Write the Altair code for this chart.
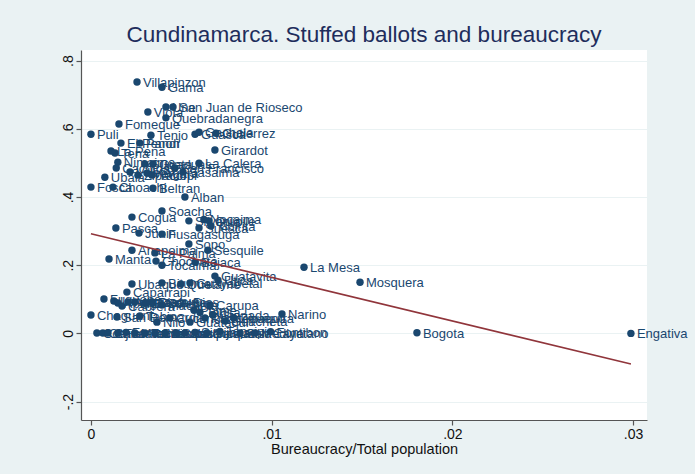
import altair as alt
import pandas as pd

# Municipalities of Cundinamarca: bureaucracy share vs. stuffed-ballot share
names = [
    "Villapinzon", "Gama", "Une", "San Juan de Rioseco", "Viota", "Quebradanegra",
    "Fomeque", "Puli", "Tenjo", "Guasca", "Gachala", "Gutierrez", "Girardot",
    "El Penon", "Pandi", "La Pena", "Tena", "Nimaima", "Cachipay", "Supata",
    "Guaduas", "San Francisco", "La Calera", "Villeta", "Zipacon", "Vergara",
    "Sasaima", "Ubala", "Yacopi", "Fosca", "Choachi", "Beltran", "Alban",
    "Soacha", "Cogua", "Silvania", "Nocaima", "Quipile", "Suesca", "Tibirita",
    "Pasca", "Junin", "Fusagasuga", "Sopo", "Sesquile", "Anapoima", "La Palma",
    "Manta", "Choconta", "Tocaima", "Bojaca", "Guatavita", "Utica", "La Mesa",
    "Mosquera", "Ubaque", "Bituima", "Quetame", "Guayabetal", "Caparrapi",
    "Fuquene", "Lenguazaque", "Apulo", "Cabrera", "Arbelaez", "Agua de Dios",
    "El Colegio", "Ricaurte", "Macheta", "Carupa", "Paime", "Tausa", "Granada",
    "Chaguani", "Narino", "Zipaquira", "Nilo", "Guataqui", "San Bernardo",
    "Tabio", "Cucunuba", "Guacheta", "Paratebueno", "Cota", "Cajica", "Chia",
    "Facatativa", "Funza", "Madrid", "Tocancipa", "Gachancipa", "Sibate",
    "Subachoque", "Susa", "Simijaca", "Sutatausa", "Topaipi", "San Cayetano",
    "Medina", "Fontibon", "Bogota", "Engativa",
]

bureaucracy = [
    0.00255, 0.00393, 0.00415, 0.00454, 0.00315, 0.00415,
    0.00155, 0.00000, 0.00332, 0.00576, 0.00598, 0.00692, 0.00686,
    0.00166, 0.00271, 0.00111, 0.00133, 0.00149, 0.00140, 0.00299,
    0.00343, 0.00465, 0.00598, 0.00216, 0.00260, 0.00310,
    0.00509, 0.00077, 0.00338, 0.00000, 0.00122, 0.00343, 0.00520,
    0.00393, 0.00227, 0.00542, 0.00625, 0.00653, 0.00598, 0.00664,
    0.00138, 0.00266, 0.00393, 0.00542, 0.00647, 0.00227, 0.00354,
    0.00100, 0.00360, 0.00393, 0.00576, 0.00686, 0.00703, 0.01179,
    0.01489, 0.00227, 0.00393, 0.00498, 0.00548, 0.00199,
    0.00072, 0.00127, 0.00149, 0.00172, 0.00205, 0.00243,
    0.00299, 0.00338, 0.00393, 0.00659, 0.00570, 0.00603, 0.00675,
    0.00000, 0.01057, 0.00791, 0.00365, 0.00548, 0.00144,
    0.00271, 0.00437, 0.00742, 0.00631, 0.00033, 0.00066, 0.00094,
    0.00149, 0.00194, 0.00243, 0.00299, 0.00354, 0.00410,
    0.00470, 0.00520, 0.00576, 0.00642, 0.00714, 0.00825,
    0.00908, 0.00994, 0.01804, 0.02988,
]

stuffed = [
    0.737, 0.722, 0.664, 0.664, 0.649, 0.632,
    0.614, 0.584, 0.581, 0.584, 0.590, 0.587, 0.538,
    0.558, 0.558, 0.535, 0.529, 0.502, 0.485, 0.497,
    0.497, 0.485, 0.499, 0.473, 0.464, 0.470,
    0.473, 0.458, 0.464, 0.429, 0.429, 0.426, 0.400,
    0.359, 0.341, 0.330, 0.334, 0.330, 0.309, 0.315,
    0.309, 0.294, 0.291, 0.262, 0.244, 0.244, 0.236,
    0.218, 0.212, 0.200, 0.209, 0.168, 0.156, 0.194,
    0.150, 0.145, 0.148, 0.145, 0.148, 0.121,
    0.101, 0.095, 0.089, 0.080, 0.092, 0.092,
    0.089, 0.092, 0.083, 0.083, 0.068, 0.062, 0.054,
    0.054, 0.057, 0.045, 0.033, 0.033, 0.048,
    0.051, 0.045, 0.036, 0.045, 0.001, 0.001, 0.001,
    0.001, 0.003, 0.001, 0.001, 0.001, 0.001,
    0.001, 0.001, 0.003, 0.001, 0.006, 0.001,
    0.001, 0.005, 0.002, 0.000,
]

# Linear fit drawn across the observed range of x
fit_x = [0.0, 0.02988]
fit_y = [0.292, -0.090]

x_ticks = [0.0, 0.01, 0.02, 0.03]
y_ticks = [-0.2, 0.0, 0.2, 0.4, 0.6, 0.8]

df = pd.DataFrame({"name": names, "bureau": bureaucracy, "stuffed": stuffed})
fit = pd.DataFrame({"bureau": fit_x, "stuffed": fit_y})

NAVY = "#1A476F"
MAROON = "#90353B"
BG = "#EAF2F3"
FONT = "Liberation Sans"

x_scale = alt.Scale(domain=[-0.00055, 0.03077], nice=False, zero=False)
y_scale = alt.Scale(domain=[-0.254, 0.831], nice=False, zero=False)

x_enc = alt.X(
    "bureau:Q", scale=x_scale,
    axis=alt.Axis(
        values=x_ticks, title="Bureaucracy/Total population", grid=False,
        labelExpr="datum.value == 0 ? '0' : '.0' + format(datum.value * 100, 'd')",
        labelFontSize=14, titleFontSize=14.5, labelPadding=2, titlePadding=1,
        tickSize=5, labelFlush=False,
    ),
)
y_enc = alt.Y(
    "stuffed:Q", scale=y_scale,
    axis=alt.Axis(
        values=y_ticks, title=None, grid=True,
        labelExpr="datum.value == 0 ? '0' : (datum.value < 0 ? '-' : '') + '.' + format(abs(datum.value) * 10, 'd')",
        labelAngle=270, labelAlign="center", labelBaseline="bottom",
        labelFontSize=14, labelPadding=1, tickSize=5,
    ),
)

points = alt.Chart(df).mark_circle(size=55, opacity=1, color=NAVY).encode(x=x_enc, y=y_enc)

labels = alt.Chart(df).mark_text(
    align="left", baseline="middle", dx=6, dy=1, fontSize=13, font=FONT, color=NAVY
).encode(x="bureau:Q", y="stuffed:Q", text="name:N")

fit_line = alt.Chart(fit).mark_line(color=MAROON, strokeWidth=1.6).encode(
    x="bureau:Q", y="stuffed:Q"
)

chart = (
    alt.layer(points, labels, fit_line)
    .properties(
        width=566, height=370,
        autosize=alt.AutoSizeParams(type="none"),
        padding={"left": 81, "top": 50, "right": 48, "bottom": 54},
        background=BG,
        title=alt.TitleParams(
            "Cundinamarca. Stuffed ballots and bureaucracy",
            fontSize=22.5, font=FONT, fontWeight="normal", color="#1E2D5C",
            anchor="middle", offset=4,
        ),
    )
    .configure_view(fill="white", stroke=None)
    .configure_axis(
        domainColor="#555555", domainWidth=1.2, tickColor="#555555", tickWidth=1.2,
        labelColor="#111111", titleColor="#111111", labelFont=FONT, titleFont=FONT,
        titleFontWeight="normal", gridColor=BG, gridWidth=1.2,
    )
)

chart.save("out.html", embed_options={"renderer": "svg", "actions": False})
